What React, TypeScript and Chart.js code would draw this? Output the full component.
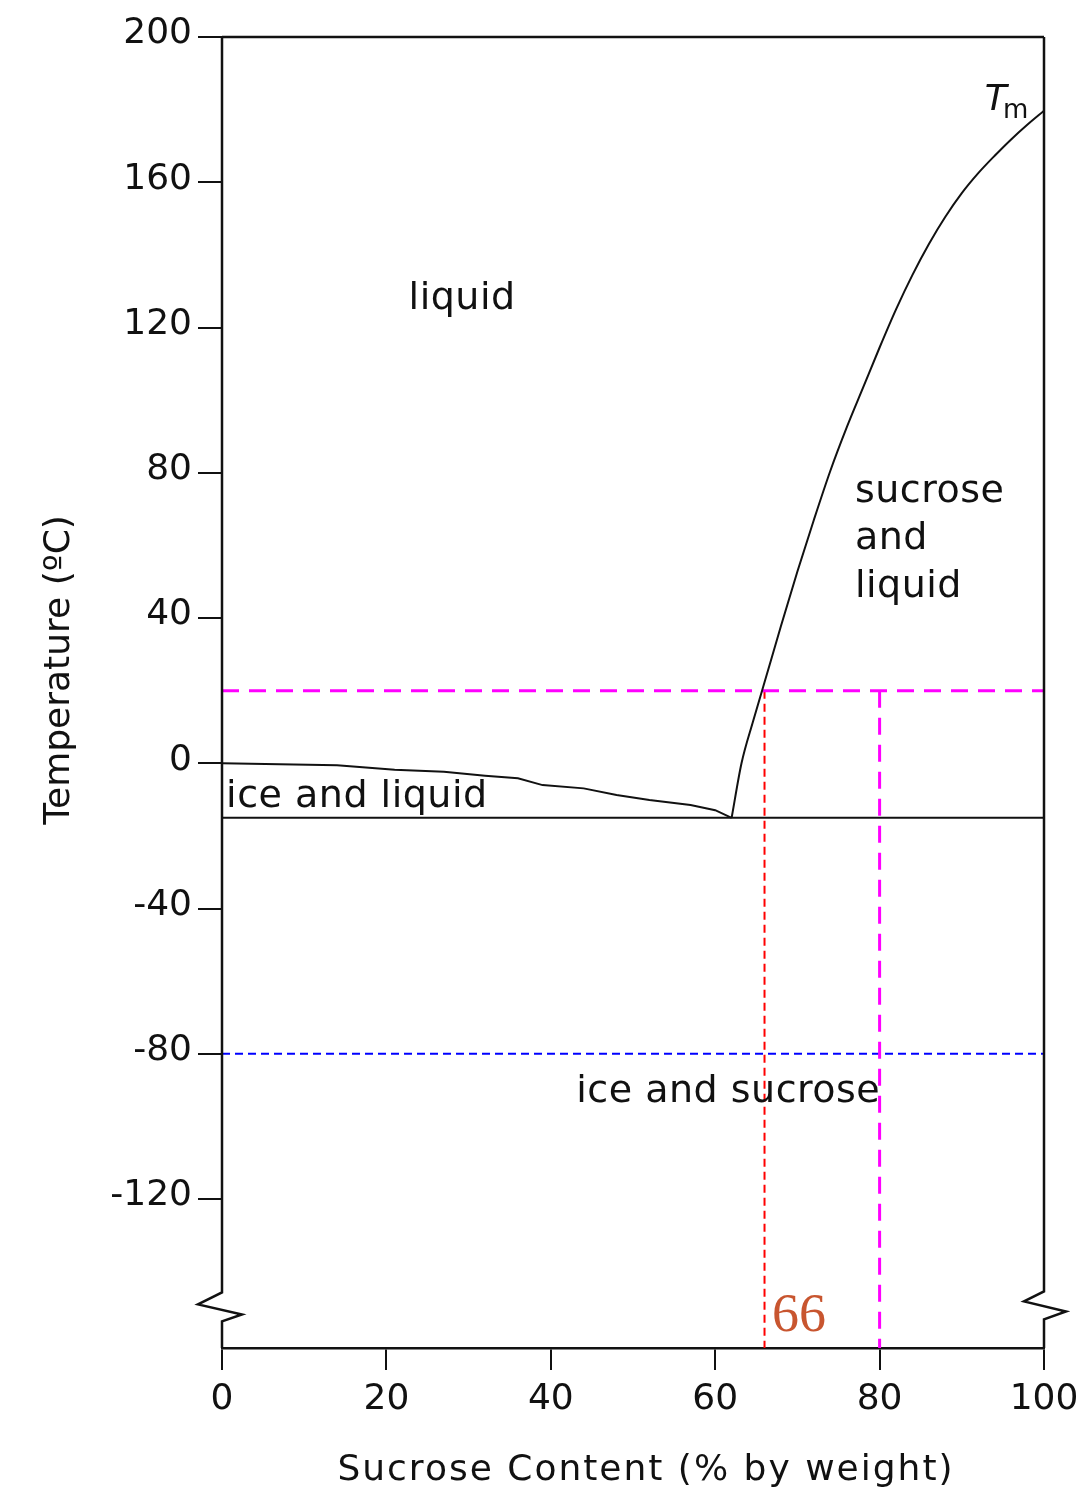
import React, { useEffect, useRef } from 'react';
import { Chart, registerables } from 'chart.js';

Chart.register(...registerables);

// ---- data ----
const xTicks = [0, 20, 40, 60, 80, 100];
const yTicks = [200, 160, 120, 80, 40, 0, -40, -80, -120];

// ice / liquid boundary (freezing curve)
const iceX = [0, 14, 21, 27, 32, 36, 39, 44, 48, 52, 57, 60, 62];
const iceY = [0, -0.5, -1.8, -2.3, -3.4, -4.1, -6.0, -6.9, -8.7, -10.1, -11.5, -12.9, -15];

// sucrose solubility / melting curve (Tm)
const tmX = [62, 63.2, 64.6, 66, 68, 70, 72, 74, 76, 78, 80, 82, 84, 86, 88, 90, 92, 94, 96, 98, 100];
const tmY = [-15, 0, 11.5, 22.3, 37.8, 52.8, 67, 80.5, 92.5, 103.5, 114.5, 125, 134.5, 143, 150.5, 157, 162.5, 167.3, 171.8, 175.9, 179.7];

const eutecticT = -15;
const roomT = 20;
const markRed = 66;
const markMagenta = 80;
const storageT = -80;
const xMin = 0;
const xMax = 100;
const yMin = -161;
const yMax = 200;
const breakT = -149;

const regionLabels = [
  { lines: ['liquid'], x: 22.7, y: 125 },
  { lines: ['sucrose', 'and', 'liquid'], x: 77, y: 72 },
  { lines: ['ice and liquid'], x: 0.5, y: -12 },
  { lines: ['ice and sucrose'], x: 43.1, y: -93.3 },
];
const markLabel = { text: '66', x: 66.9, y: -156.4 };
const tmLabel = { main: 'T', sub: 'm', x: 92.8, y: 180, subX: 95.0, subY: 177.8 };

const xTitle = 'Sucrose Content (% by weight)';
const yTitle = 'Temperature (ºC)';

const FONT = '"DejaVu Sans", "Liberation Sans", sans-serif';

const pts = (xs: number[], ys: number[]) => xs.map((x, i) => ({ x, y: ys[i] }));

const decorPlugin = {
  id: 'decor',
  afterDraw(chart: any) {
    const { ctx, chartArea: a, scales } = chart;
    const sx = scales.x;
    const sy = scales.y;
    ctx.save();
    ctx.strokeStyle = '#111';
    ctx.lineWidth = 2.5;
    ctx.lineJoin = 'miter';
    const yb = sy.getPixelForValue(breakT);
    const breakAxis = (px: number, zig: number[][]) => {
      ctx.beginPath();
      ctx.moveTo(px, a.top);
      zig.forEach(([dx, dy]) => ctx.lineTo(px + dx, yb + dy));
      ctx.lineTo(px, a.bottom);
      ctx.stroke();
    };
    breakAxis(a.left, [[0, -12], [-24, 0], [20, 10], [0, 17]]);
    breakAxis(a.right, [[0, -13], [-20, -3], [22, 7], [0, 15]]);
    ctx.beginPath();
    ctx.moveTo(a.left, a.top);
    ctx.lineTo(a.right, a.top);
    ctx.stroke();

    // region labels
    ctx.fillStyle = '#111';
    ctx.font = `38px ${FONT}`;
    (ctx as any).letterSpacing = '0.5px';
    ctx.textAlign = 'left';
    ctx.textBaseline = 'alphabetic';
    regionLabels.forEach((l) => {
      const px = sx.getPixelForValue(l.x);
      const py = sy.getPixelForValue(l.y);
      l.lines.forEach((t, i) => ctx.fillText(t, px, py + i * 47.5));
    });
    (ctx as any).letterSpacing = '0px';

    // Tm label
    ctx.font = `italic 36px ${FONT}`;
    ctx.fillText(tmLabel.main, sx.getPixelForValue(tmLabel.x), sy.getPixelForValue(tmLabel.y));
    ctx.font = `26px ${FONT}`;
    ctx.fillText(tmLabel.sub, sx.getPixelForValue(tmLabel.subX), sy.getPixelForValue(tmLabel.subY));

    // 66 label
    ctx.fillStyle = '#c8552f';
    ctx.font = '54px "Liberation Serif", "DejaVu Serif", serif';
    ctx.fillText(markLabel.text, sx.getPixelForValue(markLabel.x), sy.getPixelForValue(markLabel.y));

    // axis titles
    ctx.fillStyle = '#111';
    ctx.font = `36px ${FONT}`;
    (ctx as any).letterSpacing = '2px';
    ctx.textAlign = 'center';
    ctx.fillText(xTitle, (a.left + a.right) / 2 + 13, 1480);
    (ctx as any).letterSpacing = '0px';
    ctx.translate(69, 670);
    ctx.rotate(-Math.PI / 2);
    ctx.fillText(yTitle, 0, 0);
    ctx.restore();
  },
};

export default function App() {
  const ref = useRef<HTMLCanvasElement | null>(null);
  useEffect(() => {
    if (!ref.current) return;
    const black = '#111';
    const chart = new Chart(ref.current, {
      type: 'scatter',
      data: {
        datasets: [
          { label: 'Ice liquidus', data: pts(iceX, iceY), showLine: true, borderColor: black, borderWidth: 2, pointRadius: 0, tension: 0 },
          { label: 'Tm', data: pts(tmX, tmY), showLine: true, borderColor: black, borderWidth: 2, pointRadius: 0, cubicInterpolationMode: 'monotone' },
          { label: 'Eutectic', data: [{ x: xMin, y: eutecticT }, { x: xMax, y: eutecticT }], showLine: true, borderColor: black, borderWidth: 2, pointRadius: 0 },
          { label: '20 °C', data: [{ x: xMin, y: roomT }, { x: xMax, y: roomT }], showLine: true, borderColor: '#ff00ff', borderWidth: 3, borderDash: [17, 10], pointRadius: 0 },
          { label: '80 %', data: [{ x: markMagenta, y: roomT }, { x: markMagenta, y: yMin }], showLine: true, borderColor: '#ff00ff', borderWidth: 3, borderDash: [17, 10], pointRadius: 0 },
          { label: '66 %', data: [{ x: markRed, y: roomT }, { x: markRed, y: yMin }], showLine: true, borderColor: '#ff0000', borderWidth: 2, borderDash: [8, 5], pointRadius: 0 },
          { label: '-80 °C', data: [{ x: xMin, y: storageT }, { x: xMax, y: storageT }], showLine: true, borderColor: '#0000ff', borderWidth: 2, borderDash: [8, 5], pointRadius: 0 },
        ],
      },
      options: {
        responsive: false,
        maintainAspectRatio: false,
        devicePixelRatio: 1,
        animation: false,
        layout: { padding: { top: 37, right: 45, left: 0, bottom: 0 } },
        plugins: { legend: { display: false }, tooltip: { enabled: false } },
        scales: {
          x: {
            type: 'linear',
            min: xMin,
            max: xMax,
            afterBuildTicks: (s: any) => { s.ticks = xTicks.map((v) => ({ value: v })); },
            afterFit: (s: any) => { s.height = 140; s.paddingLeft = 0; s.paddingRight = 0; },
            grid: { drawOnChartArea: false, drawTicks: true, tickLength: 22, color: black, lineWidth: 2 },
            border: { display: true, color: black, width: 2.5 },
            ticks: { color: black, padding: 8, font: { family: FONT, size: 36 }, maxRotation: 0, autoSkip: false },
          },
          y: {
            type: 'linear',
            min: yMin,
            max: yMax,
            afterBuildTicks: (s: any) => { s.ticks = yTicks.map((v) => ({ value: v })); },
            afterFit: (s: any) => { s.width = 222; s.paddingTop = 0; s.paddingBottom = 0; },
            grid: { drawOnChartArea: false, drawTicks: true, tickLength: 24, color: black, lineWidth: 2 },
            border: { display: false },
            ticks: { color: black, padding: 6, labelOffset: -3, font: { family: FONT, size: 36 }, autoSkip: false },
          },
        },
      } as any,
      plugins: [decorPlugin],
    });
    return () => chart.destroy();
  }, []);
  return (
    <div style={{ position: 'absolute', left: 0, top: 0, width: 1089, height: 1488, background: '#fff' }}>
      <canvas ref={ref} width={1089} height={1488} style={{ display: 'block' }} />
    </div>
  );
}
